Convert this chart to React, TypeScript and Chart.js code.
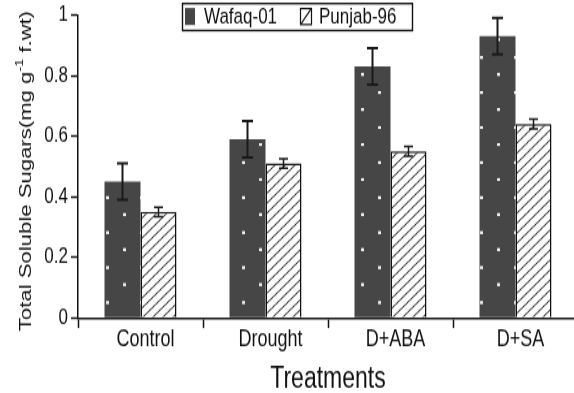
import { useEffect, useRef } from "react";
import { Chart, registerables } from "chart.js";

Chart.register(...registerables);

const categories = ["Control", "Drought", "D+ABA", "D+SA"];
const seriesNames = ["Wafaq-01", "Punjab-96"];
const wafaqValues = [0.45, 0.59, 0.83, 0.93];
const wafaqErrors = [0.06, 0.06, 0.06, 0.06];
const punjabValues = [0.35, 0.51, 0.55, 0.64];
const punjabErrors = [0.016, 0.016, 0.016, 0.016];
const yMin = 0;
const yMax = 1;
const yStep = 0.2;
const xTitle = "Treatments";
const yTitleMain = "Total Soluble Sugars(mg g";
const yTitleSup = "-1";
const yTitleEnd = " f.wt)";

const FONT = "'Liberation Sans', Arial, sans-serif";
const DARK = "#464646";
// The reference picture is stretched vertically; draw on a shorter canvas and stretch it.
const OUT_H = 393;
const CANVAS_H = 302;
const CANVAS_W = 600;
const STRETCH = OUT_H / CANVAS_H;
const sy = (v: number) => v / STRETCH;

function makeDotPattern(ctx: CanvasRenderingContext2D) {
  const c = document.createElement("canvas");
  c.width = 34;
  c.height = 35;
  const g = c.getContext("2d")!;
  g.fillStyle = DARK;
  g.fillRect(0, 0, 34, 35);
  g.fillStyle = "#f0f0f0";
  g.fillRect(4, 21, 3, 3);
  g.fillRect(21, 3, 3, 3);
  const p = ctx.createPattern(c, "repeat")!;
  p.setTransform(new DOMMatrix().scale(1, 1 / STRETCH));
  return p;
}

function makeHatchPattern(ctx: CanvasRenderingContext2D) {
  const c = document.createElement("canvas");
  c.width = 10;
  c.height = 10;
  const g = c.getContext("2d")!;
  g.fillStyle = "#ffffff";
  g.fillRect(0, 0, 10, 10);
  g.strokeStyle = "#2a2a2a";
  g.lineWidth = 1.1;
  g.beginPath();
  g.moveTo(-1, 11);
  g.lineTo(11, -1);
  g.moveTo(-6, 6);
  g.lineTo(6, -6);
  g.moveTo(4, 16);
  g.lineTo(16, 4);
  g.stroke();
  const p = ctx.createPattern(c, "repeat")!;
  p.setTransform(new DOMMatrix().scale(1, 1 / STRETCH));
  return p;
}

const errorBarsPlugin = {
  id: "errorBars",
  afterDatasetsDraw(chart: any) {
    const ctx = chart.ctx;
    const yScale = chart.scales.y;
    chart.data.datasets.forEach((ds: any, i: number) => {
      const meta = chart.getDatasetMeta(i);
      meta.data.forEach((bar: any, j: number) => {
        const v = ds.data[j];
        const e = ds.errors[j];
        const x = bar.x;
        const yt = yScale.getPixelForValue(v + e);
        const yb = yScale.getPixelForValue(v - e);
        const half = ds.capWidth / 2;
        ctx.save();
        ctx.strokeStyle = "#1a1a1a";
        ctx.lineWidth = ds.errLineWidth;
        ctx.beginPath();
        ctx.moveTo(x, yt);
        ctx.lineTo(x, yb);
        ctx.moveTo(x - half, yt);
        ctx.lineTo(x + half, yt);
        ctx.moveTo(x - half, yb);
        ctx.lineTo(x + half, yb);
        ctx.stroke();
        ctx.restore();
      });
    });
  },
};

const legendPlugin = {
  id: "boxLegend",
  afterDraw(chart: any) {
    const ctx = chart.ctx;
    const ds = chart.data.datasets;
    ctx.save();
    ctx.fillStyle = "#ffffff";
    ctx.fillRect(182, sy(3), 230, sy(27));
    ctx.strokeStyle = "#111";
    ctx.lineWidth = 1.4;
    ctx.strokeRect(182.5, sy(3.5), 230, sy(27));
    ctx.fillStyle = DARK;
    ctx.fillRect(185, sy(8), 10, sy(17));
    ctx.fillStyle = "#fff";
    ctx.fillRect(300, sy(8), 12, sy(17));
    ctx.strokeStyle = "#111";
    ctx.lineWidth = 1.2;
    ctx.strokeRect(300.5, sy(8.5), 11, sy(16));
    ctx.beginPath();
    ctx.moveTo(301, sy(24));
    ctx.lineTo(311, sy(9));
    ctx.stroke();
    ctx.fillStyle = "#111";
    ctx.font = `17px ${FONT}`;
    ctx.textBaseline = "middle";
    ctx.textAlign = "left";
    ctx.fillText(ds[0].label, 204, sy(17.5));
    ctx.fillText(ds[1].label, 319, sy(17.5));
    ctx.restore();
  },
};

const yTitlePlugin = {
  id: "yTitle",
  afterDraw(chart: any) {
    const ctx = chart.ctx;
    ctx.save();
    ctx.translate(26, sy(171));
    ctx.rotate(-Math.PI / 2);
    ctx.fillStyle = "#111";
    ctx.textBaseline = "middle";
    ctx.textAlign = "left";
    const mainFont = `17px ${FONT}`;
    const supFont = `11px ${FONT}`;
    ctx.font = mainFont;
    const w1 = ctx.measureText(yTitleMain).width;
    const w3 = ctx.measureText(yTitleEnd).width;
    ctx.font = supFont;
    const w2 = ctx.measureText(yTitleSup).width;
    const total = w1 + w2 + w3;
    let x = -total / 2;
    ctx.font = mainFont;
    ctx.fillText(yTitleMain, x, 0);
    x += w1;
    ctx.font = supFont;
    ctx.fillText(yTitleSup, x, -6);
    x += w2;
    ctx.font = mainFont;
    ctx.fillText(yTitleEnd, x, 0);
    ctx.restore();
  },
};

export default function App() {
  const ref = useRef<HTMLCanvasElement | null>(null);

  useEffect(() => {
    const canvas = ref.current!;
    const ctx = canvas.getContext("2d")!;
    const chart = new Chart(canvas, {
      type: "bar",
      data: {
        labels: categories,
        datasets: [
          {
            label: seriesNames[0],
            data: wafaqValues,
            errors: wafaqErrors,
            capWidth: 11,
            errLineWidth: 2,
            backgroundColor: makeDotPattern(ctx),
            borderWidth: 0,
            barPercentage: 1,
            categoryPercentage: 0.576,
          } as any,
          {
            label: seriesNames[1],
            data: punjabValues,
            errors: punjabErrors,
            capWidth: 9,
            errLineWidth: 1.5,
            backgroundColor: makeHatchPattern(ctx),
            borderColor: "#111",
            borderWidth: 1.5,
            barPercentage: 1,
            categoryPercentage: 0.576,
          } as any,
        ],
      },
      options: {
        animation: false,
        responsive: false,
        devicePixelRatio: 1,
        layout: { padding: { left: 0, top: sy(12), right: 22, bottom: 0 } },
        plugins: {
          legend: { display: false },
          tooltip: { enabled: false },
        },
        scales: {
          x: {
            offset: true,
            afterFit(scale: any) {
              scale.height = CANVAS_H - sy(318);
            },
            grid: {
              display: true,
              offset: true,
              drawOnChartArea: false,
              drawTicks: true,
              tickLength: sy(10),
              tickWidth: 1.5,
              color: "#111",
            },
            border: { display: true, color: "#111", width: 1.5 },
            ticks: {
              color: "#111",
              font: { family: FONT, size: 18, lineHeight: 1 },
              padding: 0,
              labelOffset: 5,
              maxRotation: 0,
            },
            title: {
              display: true,
              text: xTitle,
              color: "#111",
              font: { family: FONT, size: 23, lineHeight: 0.9 },
              padding: { top: 0, bottom: 0 },
            },
          },
          y: {
            min: yMin,
            max: yMax,
            afterFit(scale: any) {
              scale.width = 78;
            },
            ticks: {
              stepSize: yStep,
              color: "#111",
              font: { family: FONT, size: 17, lineHeight: 1 },
              padding: 3,
              callback: (v: any) => String(Number(Number(v).toFixed(1))),
            },
            grid: {
              display: true,
              drawOnChartArea: false,
              drawTicks: true,
              tickLength: 7,
              tickWidth: 1.5,
              color: "#111",
            },
            border: { display: true, color: "#111", width: 1.5 },
          },
        },
      },
      plugins: [errorBarsPlugin, legendPlugin, yTitlePlugin],
    });
    return () => chart.destroy();
  }, []);

  return (
    <div
      style={{
        position: "fixed",
        left: 0,
        top: 0,
        width: 574,
        height: OUT_H,
        overflow: "hidden",
        background: "#fff",
      }}
    >
      <div
        style={{
          transform: `scaleY(${STRETCH})`,
          transformOrigin: "0 0",
          width: CANVAS_W,
          height: CANVAS_H,
        }}
      >
        <canvas
          ref={ref}
          width={CANVAS_W}
          height={CANVAS_H}
          style={{ display: "block" }}
        />
      </div>
    </div>
  );
}
